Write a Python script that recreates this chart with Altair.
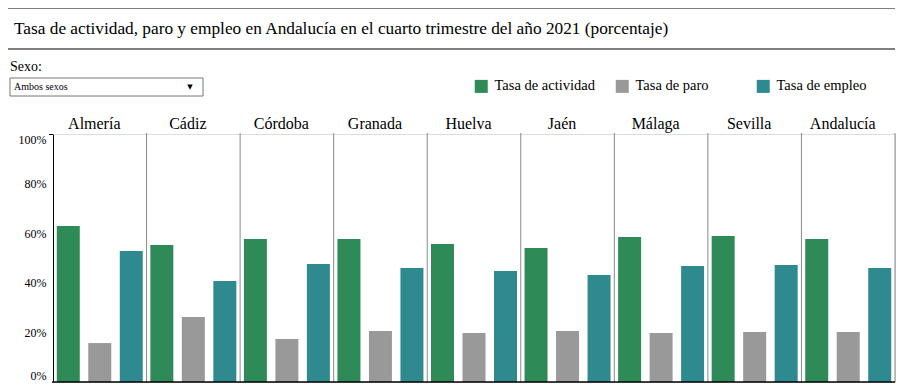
import altair as alt
import pandas as pd

regions = ["Almería", "Cádiz", "Córdoba", "Granada", "Huelva", "Jaén", "Málaga", "Sevilla", "Andalucía"]
series = ["Tasa de actividad", "Tasa de paro", "Tasa de empleo"]
colors = ["#2e8b57", "#999999", "#2f8a8f"]
actividad = [62.9, 55.2, 57.7, 57.7, 55.6, 54.0, 58.5, 58.9, 57.7]
paro = [15.7, 26.2, 17.3, 20.6, 19.8, 20.6, 19.8, 20.2, 20.2]
empleo = [52.8, 40.7, 47.6, 46.0, 44.8, 43.1, 46.8, 47.2, 46.0]
y_ticks = [0, 20, 40, 60, 80, 100]
title_text = "Tasa de actividad, paro y empleo en Andalucía en el cuarto trimestre del año 2021 (porcentaje)"
sexo_label = "Sexo:"
sexo_value = "Ambos sexos"

FONT = "Liberation Serif"
W, H = 842, 248

rows = []
for i, r in enumerate(regions):
    for s, vals in zip(series, [actividad, paro, empleo]):
        rows.append({"region": r, "serie": s, "valor": vals[i]})
df = pd.DataFrame(rows)
reg_df = pd.DataFrame({"region": regions})
one = pd.DataFrame({"k": [0]})

x_axis = alt.Axis(orient="top", title=None, domain=False, ticks=False, labelAngle=0,
                  labelFont=FONT, labelFontSize=16, labelColor="black", labelPadding=3,
                  labelOffset=-5.5)
x_scale = alt.Scale(paddingInner=0, paddingOuter=0)

bars = alt.Chart(df).mark_bar().encode(
    x=alt.X("region:N", sort=regions, scale=x_scale, axis=x_axis),
    xOffset=alt.XOffset("serie:N", sort=series, scale=alt.Scale(paddingInner=0.27, paddingOuter=0.12)),
    y=alt.Y("valor:Q", scale=alt.Scale(domain=[0, 100], nice=False),
            axis=alt.Axis(title=None, values=y_ticks, ticks=False, grid=False, domainColor="black",
                          labelExpr="datum.value + '%'", labelFont=FONT, labelFontSize=12,
                          labelColor="black", labelPadding=7, labelFlush=True)),
    color=alt.Color("serie:N", scale=alt.Scale(domain=series, range=colors),
                    legend=alt.Legend(orient="none", direction="horizontal", legendX=421, legendY=-55,
                                      title=None, symbolType="square", symbolSize=169,
                                      symbolStrokeWidth=0, labelFont=FONT, labelFontSize=14.5,
                                      labelColor="black", labelOffset=6, columnPadding=20,
                                      gridAlign="all", padding=0)),
)

seps = alt.Chart(reg_df).mark_rule(color="#8a8a8a", strokeWidth=1).encode(
    x=alt.X("region:N", sort=regions, scale=x_scale, axis=x_axis, bandPosition=1),
    y=alt.value(-1),
    y2=alt.value(H),
)

bottom = alt.Chart(one).mark_rule(color="black", strokeWidth=1.5).encode(
    x=alt.value(-1), x2=alt.value(W), y=alt.value(H))
outer_tick = alt.Chart(one).mark_rule(color="black", strokeWidth=1).encode(
    x=alt.value(-4), x2=alt.value(0), y=alt.value(0.5))

line1 = alt.Chart(one).mark_rule(color="black", strokeWidth=1).encode(
    x=alt.value(-45), x2=alt.value(W), y=alt.value(-126))
line2 = alt.Chart(one).mark_rule(color="black", strokeWidth=1).encode(
    x=alt.value(-45), x2=alt.value(W), y=alt.value(-85))
title = alt.Chart(one).mark_text(text=title_text, align="left", baseline="middle", font=FONT,
                                 fontSize=17.3, color="black").encode(
    x=alt.value(-39), y=alt.value(-105))
sexo = alt.Chart(one).mark_text(text=sexo_label, align="left", baseline="middle", font=FONT,
                                fontSize=14, color="black").encode(
    x=alt.value(-43), y=alt.value(-67))
box = alt.Chart(one).mark_rect(fill="white", stroke="#767676", strokeWidth=1).encode(
    x=alt.value(-43), x2=alt.value(150), y=alt.value(-56), y2=alt.value(-38))
box_text = alt.Chart(one).mark_text(text=sexo_value, align="left", baseline="middle", font=FONT,
                                    fontSize=10, color="black").encode(
    x=alt.value(-39), y=alt.value(-47))
arrow = alt.Chart(one).mark_text(text="▼", align="center", baseline="middle", font="DejaVu Sans",
                                 fontSize=7, color="black").encode(
    x=alt.value(137), y=alt.value(-47))

chart = alt.layer(bars, seps, bottom, outer_tick, line1, line2, title, sexo, box, box_text, arrow).properties(
    width=W, height=H,
    padding={"left": 45, "top": 126, "right": 12, "bottom": 4},
    autosize=alt.AutoSizeParams(type="none"),
).configure_view(stroke=None).configure(background="white")

chart.save("out.html", embed_options={"renderer": "svg", "actions": False})
